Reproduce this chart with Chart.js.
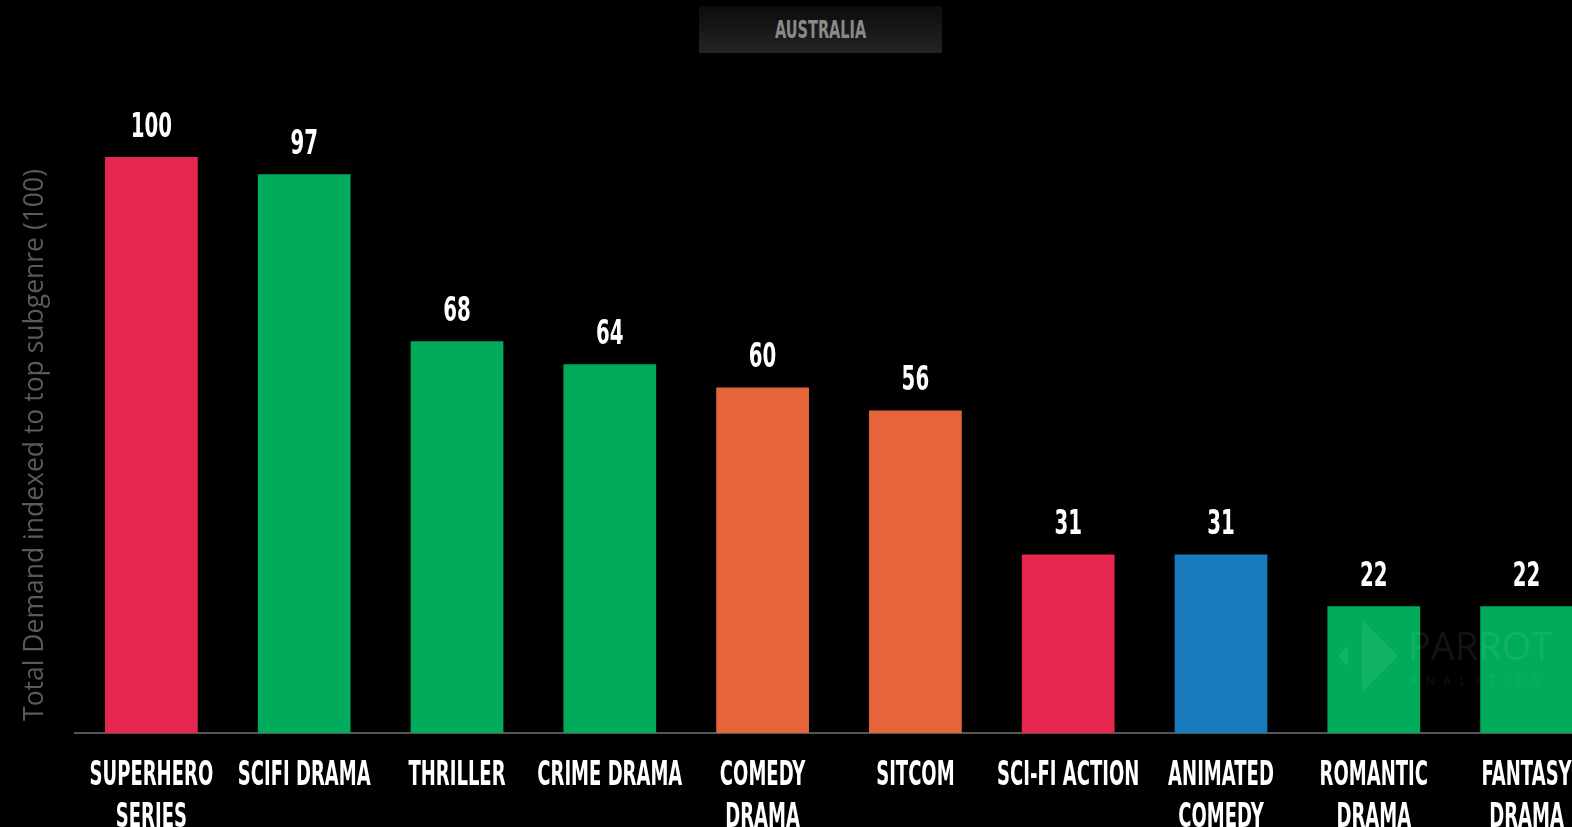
<!DOCTYPE html>
<html>
<head>
<meta charset="utf-8">
<script src="https://cdn.jsdelivr.net/npm/chart.js@4/dist/chart.umd.min.js"></script>
<style>
  html, body { margin: 0; padding: 0; background: #000; overflow: hidden; width: 1572px; height: 827px; }
  #wrap { position: absolute; left: 0; top: 0; width: 1610px; height: 827px; }
  #country {
    position: absolute; left: 699px; top: 6px; width: 243px; height: 47px;
    background: linear-gradient(#0c0c0c, #242424);
    color: #8a8a8a; font: bold 25px 'DejaVu Sans', sans-serif;
    text-align: center; line-height: 47px;
  }
  #country span { display: inline-block; transform: scaleX(0.58); }
  #mark { position: absolute; left: 0; top: 0; pointer-events: none; z-index: 2; color: rgba(255,255,255,0.07); font-family: 'Open Sans', sans-serif; }
  #mark .big { position: absolute; left: 1408px; top: 626px; font-size: 38px; line-height: 38px; white-space: nowrap; }
  #mark .small { position: absolute; left: 1410px; top: 674px; font-size: 12px; line-height: 14px; letter-spacing: 8.5px; white-space: nowrap; }
  #mark .tri1 { position: absolute; left: 1338px; top: 645px; width: 10px; height: 22px; background: rgba(255,255,255,0.07); clip-path: polygon(100% 0, 0 50%, 100% 100%); }
  #mark .tri2 { position: absolute; left: 1362px; top: 620px; width: 36px; height: 72px; background: rgba(255,255,255,0.07); clip-path: polygon(0 0, 100% 50%, 0 100%); }
</style>
</head>
<body>
<div id="wrap"><canvas id="genreChart" width="1610" height="827"></canvas></div>
<div id="country"><span>AUSTRALIA</span></div>
<div id="mark"><div class="tri1"></div><div class="tri2"></div><div class="big">PARROT</div><div class="small">ANALYTICS</div></div>
<script>
const labels = [["SUPERHERO", "SERIES"], "SCIFI DRAMA", "THRILLER", "CRIME DRAMA", ["COMEDY", "DRAMA"],
    "SITCOM", "SCI-FI ACTION", ["ANIMATED", "COMEDY"], ["ROMANTIC", "DRAMA"], ["FANTASY", "DRAMA"]];
const demand = [100, 97, 68, 64, 60, 56, 31, 31, 22, 22];
const barColors = ["#e5264e", "#00ac5b", "#00ac5b", "#00ac5b", "#e6643a",
    "#e6643a", "#e5264e", "#187abb", "#00ac5b", "#00ac5b"];

// police condensée simulée (pas de Bebas dispo)
function drawNarrow(ctx, text, x, y, sx) {
    ctx.save();
    ctx.translate(x, y);
    ctx.scale(sx, 1);
    ctx.fillText(text, 0, 0);
    ctx.restore();
}

// valeurs au-dessus des barres + libellés de l'axe x
const textLayer = {
    id: 'textLayer',
    afterDatasetsDraw(chart) {
        const ctx = chart.ctx;
        const meta = chart.getDatasetMeta(0);
        const xScale = chart.scales.x;
        const bottom = chart.chartArea.bottom;
        ctx.save();
        ctx.fillStyle = '#fff';
        ctx.textAlign = 'center';
        ctx.textBaseline = 'alphabetic';
        ctx.font = 'bold 33px "DejaVu Sans", sans-serif';
        meta.data.forEach((bar, i) => {
            drawNarrow(ctx, String(demand[i]), bar.x, bar.y - 20, 0.6);
        });
        ctx.font = 'bold 34px "DejaVu Sans", sans-serif';
        labels.forEach((lab, i) => {
            const x = xScale.getPixelForValue(i);
            const lines = Array.isArray(lab) ? lab : [lab];
            lines.forEach((line, j) => {
                drawNarrow(ctx, line, x, bottom + 52 + j * 42, 0.53);
            });
        });
        ctx.restore();
    }
};

new Chart(document.getElementById('genreChart'), {
    type: 'bar',
    data: {
        labels: labels,
        datasets: [{
            data: demand,
            backgroundColor: barColors,
            categoryPercentage: 0.607,
            barPercentage: 1
        }]
    },
    options: {
        responsive: false,
        animation: false,
        layout: { padding: { top: 157, right: 7 } },
        plugins: { legend: { display: false }, tooltip: { enabled: false } },
        scales: {
            x: {
                grid: { display: false },
                border: { color: '#555', width: 2 },
                ticks: { display: false },
                afterFit: (scale) => { scale.height = 94; }
            },
            y: {
                min: 0,
                max: 100,
                grid: { display: false },
                border: { display: false },
                ticks: { display: false },
                title: {
                    display: true,
                    text: 'Total Demand indexed to top subgenre (100)',
                    color: '#5a5a5a',
                    font: { family: "'Open Sans', sans-serif", size: 26.5 },
                    padding: { top: 20, bottom: 20 }
                },
                afterFit: (scale) => { scale.width = 75; }
            }
        }
    },
    plugins: [textLayer]
});
</script>
</body>
</html>
